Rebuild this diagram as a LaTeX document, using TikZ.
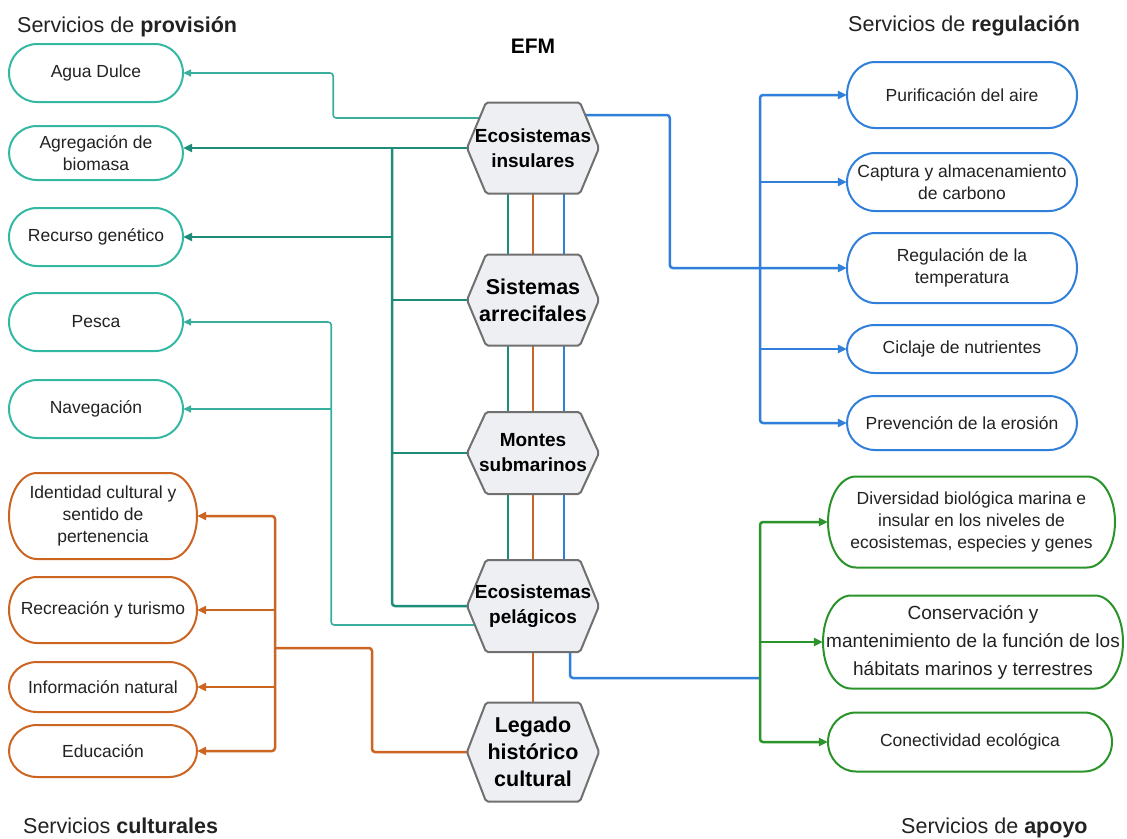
\documentclass[tikz,border=0pt]{standalone}
\usepackage{fontspec}
\setmainfont{Liberation Sans}
\usetikzlibrary{arrows.meta,calc}
\pgfdeclarelayer{lines}
\pgfsetlayers{lines,main}

\definecolor{tealbox}{HTML}{33B9A2}
\definecolor{tealdk}{HTML}{1E8C78}
\definecolor{teallt}{HTML}{3AAE9C}
\definecolor{bluec}{HTML}{2F7FDB}
\definecolor{greenc}{HTML}{2A942A}
\definecolor{orangec}{HTML}{CC6422}
\definecolor{hexfill}{HTML}{EEEFF2}
\definecolor{hexline}{HTML}{707070}
\definecolor{txt}{HTML}{222222}

\tikzset{
  tip/.style={-{Triangle[length=9pt,width=8pt]}},
  tipsm/.style={-{Triangle[length=8pt,width=7pt]}},
  conn/.style={line width=2.5pt, rounded corners=3pt},
  thinconn/.style={line width=1.6pt, rounded corners=3pt},
  boxtext/.style={text=txt, align=center, font=\fontsize{17.5}{22}\selectfont, inner sep=0pt},
  hextext/.style={align=center, inner sep=0pt, minimum width=132pt},
  title/.style={anchor=base west, inner sep=0pt, text=txt, font=\fontsize{21.5}{26}\selectfont},
}

% [style] name cx cy w h color text
\newcommand\stadium[8][]{%
  \node[boxtext, #1, minimum width=#5pt, minimum height=#6pt] (#2) at (#3,#4) {#8};
  \draw[#7, line width=2pt] ({#3-#5/2+28},{#4-#6/2}) -- ({#3+#5/2-28},{#4-#6/2})
     arc[start angle=90, end angle=-90, x radius=28pt, y radius={#6*0.5pt}]
     -- ({#3-#5/2+28},{#4+#6/2})
     arc[start angle=270, end angle=90, x radius=28pt, y radius={#6*0.5pt}] -- cycle;
}
% name cy h size skip text
\newcommand\hexa[6]{%
  \draw[hexline, fill=hexfill, line width=2pt, rounded corners=2pt]
    (467,#2) -- (486,{#2-#3/2}) -- (580,{#2-#3/2}) -- (599,#2) -- (580,{#2+#3/2}) -- (486,{#2+#3/2}) -- cycle;
  \node[hextext, minimum height=#3pt, font=\bfseries\fontsize{#4}{#5}\selectfont] (#1) at (533,#2) {#6};
}

\begin{document}
\begin{tikzpicture}[x=1pt,y=-1pt]
\useasboundingbox (0,0) rectangle (1127,838);

% titles
\node[title] (tprov) at (17,32) {Servicios de \textbf{provisión}};
\node[title] (treg) at (848,31) {Servicios de \textbf{regulación}};
\node[title] (tcul) at (23,833) {Servicios \textbf{culturales}};
\node[title] (tapo) at (901,833) {Servicios de \textbf{apoyo}};
\node[anchor=base, inner sep=0pt, font=\bfseries\fontsize{21}{25}\selectfont] (efm) at (533,53) {EFM};

% provision boxes
\stadium{agua}{96}{73}{174}{58}{tealbox}{Agua Dulce}
\stadium{agreg}{96}{153}{174}{54}{tealbox}{Agregación de\\biomasa}
\stadium{recur}{96}{237}{174}{58}{tealbox}{Recurso genético}
\stadium{pesca}{96}{322}{174}{58}{tealbox}{Pesca}
\stadium{nav}{96}{409}{174}{58}{tealbox}{Navegación}

% cultural boxes
\stadium{ident}{103}{516}{188}{86}{orangec}{Identidad cultural y\\sentido de\\pertenencia}
\stadium{recre}{103}{610}{188}{66}{orangec}{Recreación y turismo}
\stadium{info}{103}{687}{188}{50}{orangec}{Información natural}
\stadium{educ}{103}{751}{188}{52}{orangec}{Educación}

% regulation boxes
\stadium{purif}{962}{95}{230}{66}{bluec}{Purificación del aire}
\stadium{capt}{962}{182}{230}{58}{bluec}{Captura y almacenamiento\\de carbono}
\stadium{regt}{962}{268}{230}{70}{bluec}{Regulación de la\\temperatura}
\stadium{cicl}{962}{349}{230}{48}{bluec}{Ciclaje de nutrientes}
\stadium{prev}{962}{423}{230}{54}{bluec}{Prevención de la erosión}

% support boxes
\stadium{divers}{971.5}{522}{287}{91}{greenc}{Diversidad biológica marina e\\insular en los niveles de\\ecosistemas, especies y genes}
\stadium[font=\fontsize{19}{28}\selectfont]{conserv}{973}{642}{300}{93}{greenc}{Conservación y\\mantenimiento de la función de los\\hábitats marinos y terrestres}
\stadium{conect}{970}{742}{284}{59}{greenc}{Conectividad ecológica}

% hexagons
\hexa{hex1}{148}{91}{19}{25}{Ecosistemas\\insulares}
\hexa{hex2}{300}{91}{21.5}{27}{Sistemas\\arrecifales}
\hexa{hex3}{453}{82}{19}{25}{Montes\\submarinos}
\hexa{hex4}{606}{92}{19}{25}{Ecosistemas\\pelágicos}
\hexa{hex5}{752}{99}{21.5}{27}{Legado\\histórico\\cultural}

\begin{pgfonlayer}{lines}
\fill[white] (0,0) rectangle (1127,838);
\coordinate (tdk) at (392,0);
\coordinate (tlt) at (331,0);
\coordinate (btr) at (760,0);
\coordinate (bj) at (760,678);
\coordinate (otr) at (275,648);

% vertical links between hexagons
\foreach \a/\b in {hex1/hex2, hex2/hex3, hex3/hex4} {
  \draw[conn, tealdk] ($(\a.south)+(-25,0)$) -- ($(\b.north)+(-25,0)$);
  \draw[conn, orangec] (\a.south) -- (\b.north);
  \draw[conn, bluec] ($(\a.south)+(31,0)$) -- ($(\b.north)+(31,0)$);
}
\draw[conn, orangec] (hex4.south) -- (hex5.north);

% provision (dark teal)
\draw[conn, tealdk, tip] (hex1.west) -- (hex1.west -| agreg.east);
\draw[conn, tealdk] (hex1.west -| tdk) |- (hex4.west);
\draw[conn, tealdk] (hex2.west) -- (hex2.west -| tdk);
\draw[conn, tealdk] (hex3.west) -- (hex3.west -| tdk);
\draw[conn, tealdk, tip] (recur.east -| tdk) -- (recur.east);

% provision (light teal)
\draw[thinconn, teallt, tipsm] ($(hex1.center)+(-30,-30)$) -| ($(agua.east)+(150,0)$) -- (agua.east);
\draw[thinconn, teallt, tipsm] ($(hex4.center)+(-30,19)$) -| ($(pesca.east)+(148,0)$) -- (pesca.east);
\draw[thinconn, teallt, tipsm] (nav.east -| tlt) -- (nav.east);

% regulation (blue)
\draw[conn, bluec, tip] ($(hex1.center)+(40,-33)$) -| ($(regt.west)+(-177,0)$) -- (regt.west);
\draw[conn, bluec, tip] (regt.west -| btr) |- (purif.west);
\draw[conn, bluec, tip] (regt.west -| btr) |- (prev.west);
\draw[conn, bluec, tip] (capt.west -| btr) -- (capt.west);
\draw[conn, bluec, tip] (cicl.west -| btr) -- (cicl.west);
\draw[conn, bluec] ($(hex4.center)+(37,0)$) |- (bj);

% support (green)
\draw[conn, greenc, tip] (conserv.west -| btr) |- (divers.west);
\draw[conn, greenc, tip] (conserv.west -| btr) |- (conect.west);
\draw[conn, greenc, tip] (conserv.west -| btr) -- (conserv.west);

% cultural (orange)
\draw[conn, orangec] (hex5.west) -| ($(otr)+(97,0)$) -- (otr);
\draw[conn, orangec, tip] (otr) |- (ident.east);
\draw[conn, orangec, tip] (otr) |- (educ.east);
\draw[conn, orangec, tip] (recre.east -| otr) -- (recre.east);
\draw[conn, orangec, tip] (info.east -| otr) -- (info.east);
\end{pgfonlayer}
\end{tikzpicture}
\end{document}
